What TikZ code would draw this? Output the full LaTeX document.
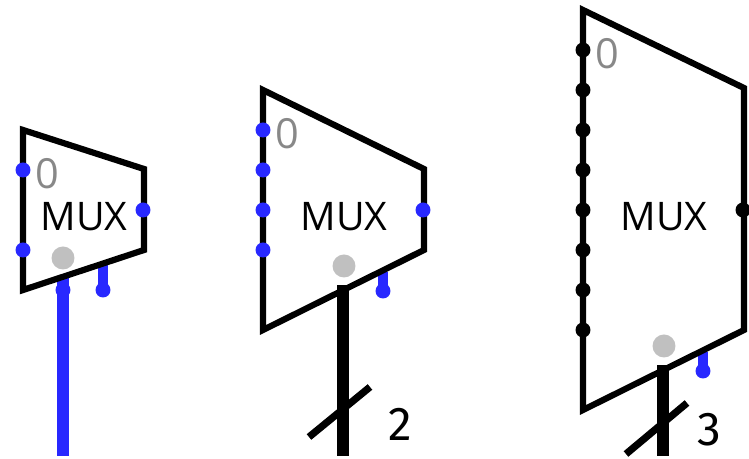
\documentclass[tikz,border=0pt]{standalone}
\usepackage{fontspec}
\setmainfont{Open Sans Light}[BoldFont={Open Sans}]
\newfontfamily\numfont{Fira Sans}
\definecolor{pinblue}{RGB}{40,40,255}
\definecolor{sel}{RGB}{192,192,192}
\definecolor{zerogray}{RGB}{136,136,136}
\tikzset{
    wire/.style={line width=.62mm, black, line join=miter},
    pinb/.style={circle, inner sep=0mm, minimum size=1.5mm, fill=pinblue},
    pink/.style={circle, inner sep=0mm, minimum size=1.5mm, fill=black},
    seldot/.style={circle, inner sep=0mm, minimum size=2.3mm, fill=sel},
    muxtext/.style={inner sep=0mm, font=\bfseries\fontsize{11.2}{11.2}\selectfont},
    zerotext/.style={inner sep=0mm, text=zerogray, font=\bfseries\fontsize{11.8}{11.8}\selectfont},
    widthtext/.style={inner sep=0mm, font=\numfont\fontsize{13.5}{13.5}\selectfont},
    bus/.style={line width=1.2mm},
    slash/.style={line width=.72mm},
    stub/.style={line width=.95mm, pinblue}
}
\begin{document}
\begin{tikzpicture}[x=.1mm, y=-.1mm]
        \useasboundingbox (0,0) rectangle (749,459);
        % one input select
        \node (ab) [pinb] at (63,290) {};
        \node (ae) [pinb] at (103,290) {};
        \coordinate (aa) at (63,278);
        \coordinate (ac) at (63,456);
        \coordinate (ad) at (103,262);
        \draw [bus, pinblue] (aa) -- (ac);
        \draw [stub] (ad) -- (ae.center);
        \coordinate (a1) at (23,130);
        \coordinate (a2) at (144,169);
        \coordinate (a3) at (144,250);
        \coordinate (a4) at (23,290);
        \draw [wire] (a1) -- (a2) -- (a3) -- (a4) -- cycle;
        \node (a0) [zerotext] at (47,174) {0};
        \node (am) [muxtext] at (84,217) {MUX};
        \node (as) [seldot] at (63,258) {};
        \node (ai0) [pinb] at (23,170) {};
        \node (ai1) [pinb] at (23,250) {};
        \node (ao) [pinb] at (143,210) {};
        % two input selects
        \node (be) [pinb] at (383,291) {};
        \coordinate (bd) at (383,272);
        \draw [stub] (bd) -- (be.center);
        \coordinate (b1) at (263,90);
        \coordinate (b2) at (424,169);
        \coordinate (b3) at (424,250);
        \coordinate (b4) at (263,330);
        \draw [wire] (b1) -- (b2) -- (b3) -- (b4) -- cycle;
        \node (b0) [zerotext] at (287,134) {0};
        \node (bm) [muxtext] at (344,217) {MUX};
        \node (bs) [seldot] at (344,266) {};
        \node (bi0) [pinb] at (263,130) {};
        \node (bi1) [pinb] at (263,170) {};
        \node (bi2) [pinb] at (263,210) {};
        \node (bi3) [pinb] at (263,250) {};
        \node (bo) [pinb] at (423,210) {};
        \coordinate (bb) at (343,285);
        \coordinate (bc) at (343,456);
        \coordinate (bx) at (309,437);
        \coordinate (by) at (370,387);
        \draw [bus] (bb) -- (bc);
        \draw [slash] (bx) -- (by);
        \node (bw) [widthtext] at (400,424) {2};
        % three input selects
        \node (ce) [pinb] at (703,371) {};
        \coordinate (cd) at (703,352);
        \draw [stub] (cd) -- (ce.center);
        \coordinate (c1) at (583,10);
        \coordinate (c2) at (744,88);
        \coordinate (c3) at (744,330);
        \coordinate (c4) at (583,410);
        \draw [wire] (c1) -- (c2) -- (c3) -- (c4) -- cycle;
        \node (c0) [zerotext] at (607,54) {0};
        \node (cm) [muxtext] at (664,217) {MUX};
        \node (cs) [seldot] at (664,346) {};
        \foreach \i/\y in {0/50,1/90,2/130,3/170,4/210,5/250,6/290,7/330}
                \node (ci\i) [pink] at (583,\y) {};
        \node (co) [pink] at (743,210) {};
        \coordinate (cb) at (663,365);
        \coordinate (cc) at (663,456);
        \coordinate (cx) at (626,454);
        \coordinate (cy) at (687,403);
        \draw [bus] (cb) -- (cc);
        \draw [slash] (cx) -- (cy);
        \node (cw) [widthtext] at (709,430) {3};
\end{tikzpicture}
\end{document}
